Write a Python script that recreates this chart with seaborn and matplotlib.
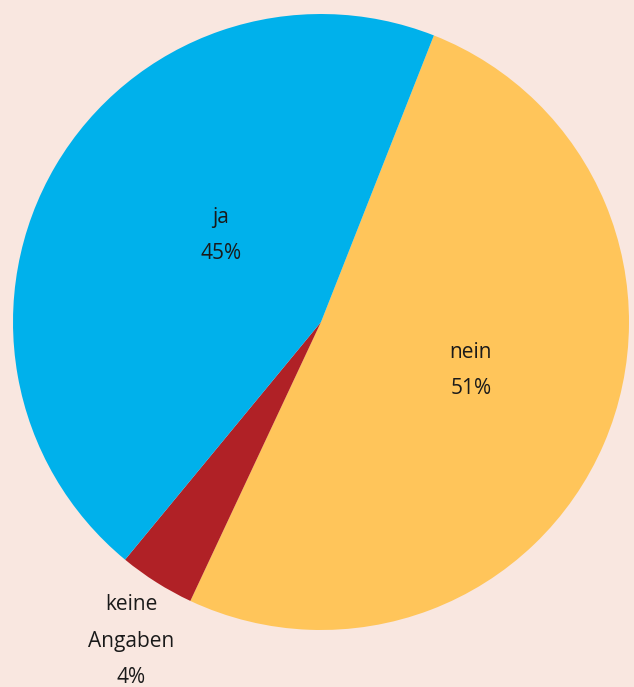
import matplotlib
matplotlib.use("Agg")
import matplotlib.pyplot as plt
import seaborn as sns

# Survey answers and their shares (percent)
categories = ["nein", "keine\nAngaben", "ja"]
shares = [51, 4, 45]
colors = ["#FFC55A", "#B02126", "#00B1EB"]

bg = "#F9E7E0"
sns.set_theme(style="white")
plt.rcParams["font.family"] = ["Open Sans", "DejaVu Sans"]

fig = plt.figure(figsize=(6.34, 6.87), dpi=100, facecolor=bg)
ax = fig.add_axes([13 / 634, 57 / 687, 616 / 634, 616 / 687])
ax.set_facecolor(bg)

wedges, _ = ax.pie(shares, colors=sns.color_palette(colors), startangle=68.5,
                   counterclock=False, radius=1.0,
                   wedgeprops=dict(linewidth=0))
ax.set_xlim(-1, 1)
ax.set_ylim(-1, 1)
ax.set_aspect("equal")
ax.axis("off")

# label anchor points inside / beside each slice
label_pos = [(0.487, -0.158), (-0.617, -1.036), (-0.325, 0.28)]
for cat, val, (x, y) in zip(categories, shares, label_pos):
    ax.text(x, y, f"{cat}\n{val}%", ha="center", va="center", fontsize=15,
            fontweight="normal", color="#1a1a1a", linespacing=1.95, clip_on=False)

fig.savefig("out.png", dpi=100, facecolor=bg)
